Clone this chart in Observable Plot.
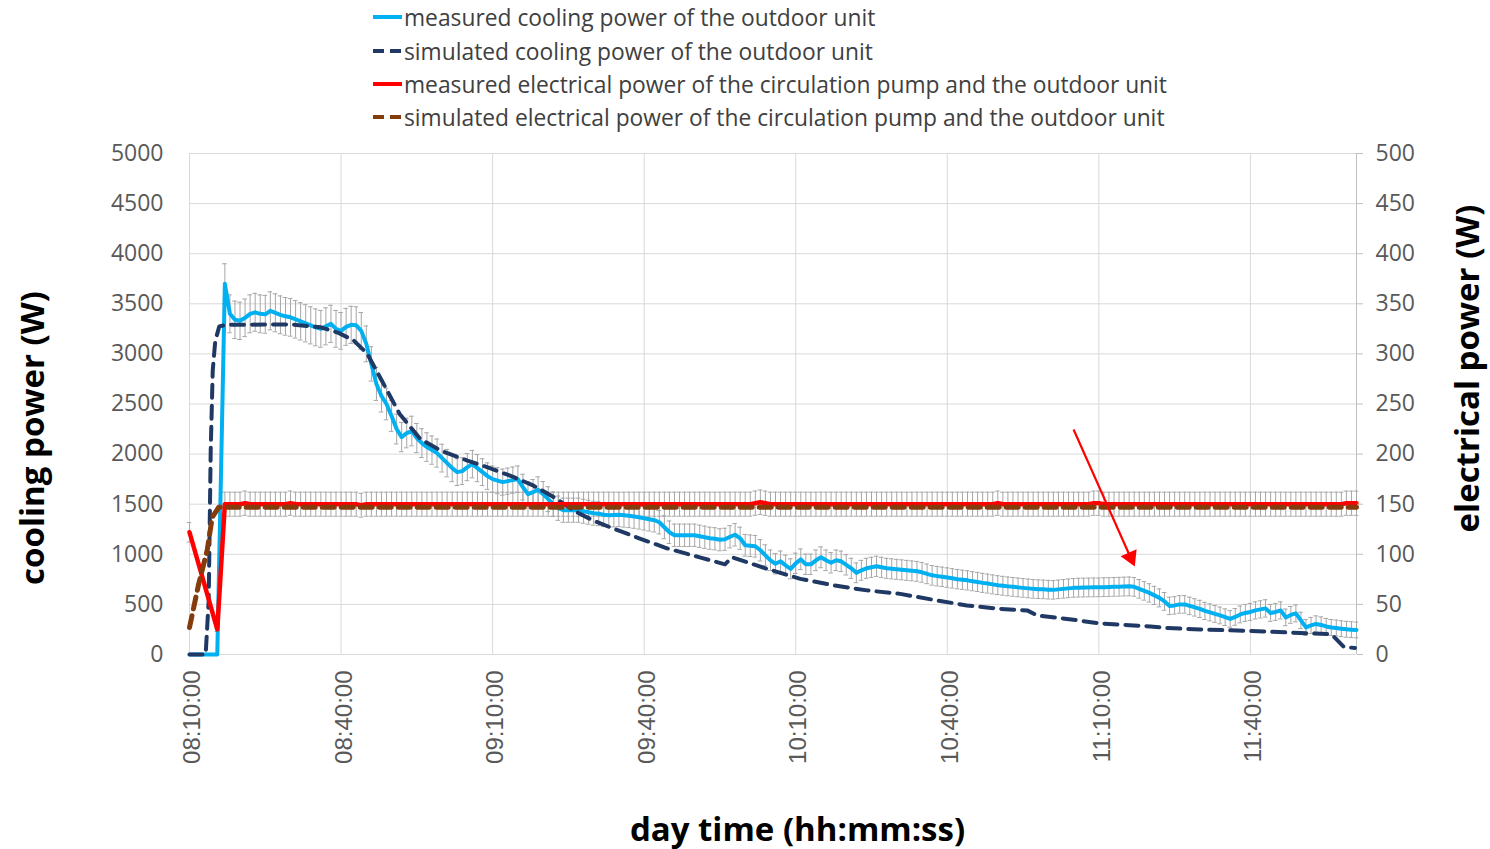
<!DOCTYPE html>
<html>
<head>
<meta charset="utf-8">
<script src="https://cdn.jsdelivr.net/npm/d3@7"></script>
<script src="https://cdn.jsdelivr.net/npm/@observablehq/plot@0.6"></script>
<style>
  body { margin: 0; background: #fff; font-family: "Open Sans", sans-serif; }
  #legend { position: relative; width: 1490px; height: 135px; }
  .row { position: absolute; left: 372px; height: 30px; display: flex; align-items: center;
         font-size: 22.8px; color: #404040; white-space: nowrap; }
  .row svg { margin-right: 1px; }
</style>
</head>
<body>
<div id="legend"></div>
<div id="chart"></div>
<script>
// Measurement clock: minutes after 08:10:00
const measuredMinutes = [0, 5.5, ...d3.range(7, 232)];

// Measured cooling power of the outdoor unit (W)
const coolingMeasured = [0, 0,
  3700, 3400, 3340, 3330, 3360, 3400, 3415, 3400, 3395, 3430,
  3410, 3390, 3375, 3365, 3345, 3325, 3305, 3285, 3265, 3250,
  3275, 3300, 3250, 3230, 3270, 3290, 3285, 3230, 3100, 2900,
  2700, 2580, 2500, 2380, 2250, 2170, 2210, 2230, 2160, 2110,
  2070, 2040, 2010, 1960, 1910, 1860, 1820, 1830, 1870, 1900,
  1860, 1820, 1780, 1750, 1735, 1720, 1730, 1740, 1750, 1670,
  1600, 1620, 1645, 1600, 1550, 1500, 1460, 1440, 1440, 1440,
  1440, 1430, 1420, 1410, 1405, 1395, 1390, 1392, 1395, 1390,
  1385, 1378, 1370, 1360, 1350, 1340, 1320, 1270, 1220, 1190,
  1190, 1190, 1190, 1190, 1180, 1170, 1160, 1155, 1145, 1150,
  1175, 1195, 1160, 1090, 1085, 1080, 1040, 990, 940, 905,
  930, 890, 855, 910, 950, 900, 900, 940, 970, 940,
  915, 940, 930, 895, 860, 815, 840, 860, 870, 880,
  870, 860, 855, 850, 845, 840, 835, 830, 820, 805,
  790, 782, 775, 768, 760, 752, 746, 740, 732, 724,
  715, 708, 700, 692, 686, 680, 675, 670, 665, 660,
  655, 652, 650, 647, 645, 650, 655, 660, 665, 667,
  668, 669, 670, 670, 672, 673, 675, 676, 678, 680,
  675, 655, 635, 615, 590, 565, 530, 485, 490, 500,
  500, 485, 470, 455, 435, 420, 405, 390, 372, 355,
  375, 400, 415, 425, 440, 450, 460, 415, 425, 440,
  370, 395, 410, 340, 270, 290, 305, 295, 280, 270,
  265, 258, 252, 248, 245];

// Measured electrical power of the circulation pump and the outdoor unit (W)
const electricalMeasured = [122, 25,
  150, 150, 150, 150, 151, 150, 150, 150, 150, 150,
  150, 150, 150, 151, 150, 150, 150, 150, 150, 150,
  150, 150, 150, 150, 150, 150, 150, 149, 150, 150,
  150, 150, 150, 150, 150, 150, 150, 150, 150, 150,
  150, 150, 150, 150, 150, 150, 150, 150, 150, 150,
  150, 150, 150, 150, 150, 150, 150, 150, 150, 150,
  150, 150, 150, 150, 150, 150, 150, 150, 150, 150,
  150, 150, 150, 150, 150, 150, 150, 150, 150, 150,
  150, 150, 150, 150, 150, 150, 150, 150, 150, 150,
  150, 150, 150, 150, 150, 150, 150, 150, 150, 150,
  150, 150, 150, 150, 150, 151, 152, 151, 150, 150,
  150, 150, 150, 150, 150, 150, 150, 150, 150, 150,
  150, 150, 150, 150, 150, 150, 150, 150, 150, 150,
  150, 150, 150, 150, 150, 150, 150, 150, 150, 150,
  150, 150, 150, 150, 150, 150, 150, 150, 150, 150,
  150, 150, 150, 151, 150, 150, 150, 150, 150, 150,
  150, 150, 150, 150, 150, 150, 150, 150, 150, 150,
  150, 150, 151, 151, 150, 150, 150, 150, 150, 150,
  150, 150, 150, 150, 150, 150, 150, 150, 150, 150,
  150, 150, 150, 150, 150, 150, 150, 150, 150, 150,
  150, 150, 150, 150, 150, 150, 150, 150, 150, 150,
  150, 150, 150, 150, 150, 150, 150, 150, 150, 150,
  150, 150, 151, 151, 151];

// Sensor uncertainty: cooling = absolute + relative part, electrical = relative
const coolingErrAbs = 70;
const coolingErrRel = 0.035;
const electricalErrRel = 0.08;

// Simulated cooling power (W) at the simulation output times (minutes after 08:10)
const simCoolingMinutes = [0, 3.2, 3.8, 4.2, 4.6, 5.1, 5.9, 7.3, 20, 26, 29.5, 32.5, 35.2, 38, 41.6,
  45.7, 49.7, 55, 58.9, 64.2, 68.1, 72.1, 76.1, 80, 84, 89, 94.5, 101, 106, 107.4, 114.3, 120.9,
  127.5, 134.1, 140.7, 147.3, 153.9, 160.5, 165.8, 167.8, 173.7, 180.3, 186.9, 190.2, 193.5, 200.1,
  209.9, 219.9, 225.2, 226.3, 228.5, 230.7];
const simCooling = [0, 0, 540, 2040, 2835, 3130, 3275, 3290, 3295, 3265, 3210, 3135, 3000, 2740, 2400,
  2150, 2035, 1935, 1870, 1770, 1685, 1570, 1435, 1335, 1255, 1160, 1060, 970, 900, 970, 855, 755,
  690, 640, 605, 545, 490, 455, 440, 390, 355, 310, 290, 280, 265, 250,
  235, 215, 205, 190, 75, 65];

// Simulated electrical power (W)
const simElectricalMinutes = [0, 1.8, 3.5, 4.5, 5.8, 60, 120, 180, 231];
const simElectrical = [27, 70, 104, 137, 147, 147, 147, 147, 147];

// Axis ticks
const coolingTicks = d3.range(0, 5001, 500);
const timeTickMinutes = [0, 30, 60, 90, 120, 150, 180, 210];
const xEndMinute = 231;

// Highlight arrow (minutes, cooling-axis units)
const arrowStart = {m: 175.0, v: 2245};
const arrowBase = {m: 185.9, v: 1011};
const arrowHeadCenter = {m: 186.3, v: 970};
const arrowAngle = 156;

// Series styling for the legend
const seriesLabels = [
  "measured cooling power of the outdoor unit",
  "simulated cooling power of the outdoor unit",
  "measured electrical power of the circulation pump and the outdoor unit",
  "simulated electrical power of the circulation pump and the outdoor unit"
];
const seriesColors = ["#00b0f0", "#1f3864", "#ff0000", "#843c0c"];
const seriesDashed = [false, true, false, true];
const legendRowCenters = [17, 51, 84, 117];

const base = Date.UTC(2021, 6, 1, 8, 10, 0);
const toDate = m => new Date(base + m * 60000);

const measured = measuredMinutes.map((m, i) => ({
  t: toDate(m), cool: coolingMeasured[i], elec: electricalMeasured[i]
}));
const coolBars = measured.filter(d => d.cool > 0).map(d => {
  const e = coolingErrAbs + coolingErrRel * d.cool;
  return {t: d.t, lo: d.cool - e, hi: d.cool + e};
});
const elecBars = measured.map(d => {
  const e = electricalErrRel * d.elec;
  return {t: d.t, lo: (d.elec - e) * 10, hi: (d.elec + e) * 10};
});
const capHalf = 27000;
const simCool = simCoolingMinutes.map((m, i) => ({t: toDate(m), v: simCooling[i]}));
const simElec = simElectricalMinutes.map((m, i) => ({t: toDate(m), v: simElectrical[i] * 10}));
const xTicks = timeTickMinutes.map(toDate);

// Legend
const legend = document.getElementById("legend");
seriesLabels.forEach((label, i) => {
  const row = document.createElement("div");
  row.className = "row";
  row.style.top = (legendRowCenters[i] - 15) + "px";
  const dash = seriesDashed[i] ? ' stroke-dasharray="11,6"' : "";
  row.innerHTML = `<svg width="31" height="10"><line x1="1" x2="30" y1="5" y2="5" stroke="${seriesColors[i]}" stroke-width="4"${dash}/></svg><span>${label}</span>`;
  legend.appendChild(row);
});

const errStroke = "#a6a6a6";
const capX1 = d => new Date(+d.t - capHalf);
const capX2 = d => new Date(+d.t + capHalf);

const chart = Plot.plot({
  width: 1490,
  height: 714,
  marginLeft: 189,
  marginRight: 134,
  marginTop: 18,
  marginBottom: 195,
  style: {fontFamily: '"Open Sans", sans-serif', background: "white", overflow: "visible"},
  x: {type: "utc", domain: [toDate(0), toDate(xEndMinute)]},
  y: {domain: [0, 5000]},
  marks: [
    Plot.gridY(coolingTicks, {stroke: "#d9d9d9", strokeOpacity: 1}),
    Plot.gridX(xTicks, {stroke: "#d9d9d9", strokeOpacity: 1}),
    Plot.ruleX([toDate(xEndMinute)], {stroke: "#bfbfbf"}),

    // error bars of the measured electrical power
    Plot.ruleX(elecBars, {x: "t", y1: "lo", y2: "hi", stroke: errStroke, strokeWidth: 1}),
    Plot.ruleY(elecBars, {y: "hi", x1: capX1, x2: capX2, stroke: errStroke, strokeWidth: 1}),
    Plot.ruleY(elecBars, {y: "lo", x1: capX1, x2: capX2, stroke: errStroke, strokeWidth: 1}),
    // error bars of the measured cooling power
    Plot.ruleX(coolBars, {x: "t", y1: "lo", y2: "hi", stroke: errStroke, strokeWidth: 1}),
    Plot.ruleY(coolBars, {y: "hi", x1: capX1, x2: capX2, stroke: errStroke, strokeWidth: 1}),
    Plot.ruleY(coolBars, {y: "lo", x1: capX1, x2: capX2, stroke: errStroke, strokeWidth: 1}),

    Plot.line(measured, {x: "t", y: "cool", stroke: seriesColors[0], strokeWidth: 4}),
    Plot.line(simCool, {x: "t", y: "v", stroke: seriesColors[1], strokeWidth: 4, strokeDasharray: "13,8"}),
    Plot.line(measured, {x: "t", y: d => d.elec * 10, stroke: seriesColors[2], strokeWidth: 4.5}),
    Plot.line(simElec, {x: "t", y: "v", stroke: seriesColors[3], strokeWidth: 5, strokeDasharray: "12,7"}),

    // highlight arrow
    Plot.link([0], {x1: () => toDate(arrowStart.m), y1: () => arrowStart.v, x2: () => toDate(arrowBase.m), y2: () => arrowBase.v, stroke: "#ff0000", strokeWidth: 2.2}),
    Plot.dot([0], {x: () => toDate(arrowHeadCenter.m), y: () => arrowHeadCenter.v, symbol: "triangle", r: 6.5, rotate: arrowAngle, fill: "#ff0000", stroke: null}),

    Plot.axisY(coolingTicks, {anchor: "left", label: null, tickSize: 0, tickPadding: 26, fontSize: 23, fill: "#595959", tickFormat: d => String(d)}),
    Plot.axisY(coolingTicks, {anchor: "right", label: null, tickSize: 6, tickPadding: 13, fontSize: 23, stroke: "#bfbfbf", fill: "#595959", tickFormat: d => String(d / 10)}),
    Plot.axisX(xTicks, {anchor: "bottom", label: null, tickSize: 0, tickPadding: 16, tickRotate: -90, dx: 3, fontSize: 24, fontFamily: '"Liberation Sans", Arial, sans-serif', fill: "#595959", tickFormat: d3.utcFormat("%H:%M:%S")}),

    Plot.text(["cooling power (W)"], {text: d => d, frameAnchor: "left", textAnchor: "middle", lineAnchor: "middle", dx: -156, dy: 34, rotate: -90, fontSize: 33, fontWeight: "bold", fill: "#000"}),
    Plot.text(["electrical power (W)"], {text: d => d, frameAnchor: "right", textAnchor: "middle", lineAnchor: "middle", dx: 112, dy: -35.5, rotate: -90, fontSize: 33, fontWeight: "bold", fill: "#000"}),
    Plot.text(["day time (hh:mm:ss)"], {text: d => d, frameAnchor: "bottom", textAnchor: "middle", lineAnchor: "middle", dx: 24.5, dy: 176, fontSize: 33, fontWeight: "bold", fill: "#000"})
  ]
});
document.getElementById("chart").appendChild(chart);
</script>
</body>
</html>
